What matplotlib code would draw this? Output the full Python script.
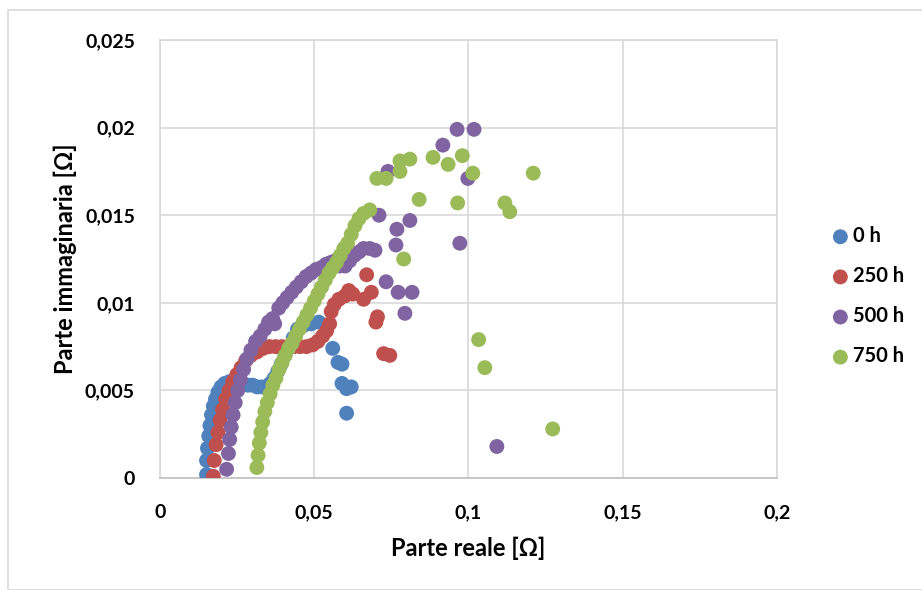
import numpy as np
from matplotlib import pyplot as plt
from matplotlib.patches import Rectangle

# Dati (parte reale, parte immaginaria)
x_0h = [0.0151, 0.0151, 0.0154, 0.0158, 0.0162, 0.0167, 0.0173, 0.0180, 0.0188, 0.0198,
        0.0210, 0.0225, 0.0240, 0.0255, 0.0270, 0.0285, 0.0300, 0.0315, 0.0330, 0.0345,
        0.0358, 0.0370, 0.0382, 0.0393, 0.0405, 0.0418, 0.0432, 0.0446, 0.0465, 0.0490,
        0.0515, 0.0560, 0.0577, 0.0590, 0.0590, 0.0605, 0.0620, 0.0605]
y_0h = [0.0002, 0.0010, 0.0017, 0.0024, 0.0030, 0.0036, 0.0041, 0.0045, 0.0049, 0.0052,
        0.0054, 0.0055, 0.0054, 0.0054, 0.0054, 0.0053, 0.0053, 0.0052, 0.0052, 0.0052,
        0.0054, 0.0057, 0.0061, 0.0065, 0.0070, 0.0075, 0.0080, 0.0085, 0.0087, 0.0088,
        0.0089, 0.0074, 0.0066, 0.0065, 0.0054, 0.0051, 0.0052, 0.0037]

x_250h = [0.0173, 0.0176, 0.0182, 0.0188, 0.0195, 0.0203, 0.0213, 0.0224, 0.0236, 0.0249,
          0.0263, 0.0278, 0.0295, 0.0315, 0.0335, 0.0355, 0.0375, 0.0395, 0.0415, 0.0435,
          0.0455, 0.0475, 0.0495, 0.0512, 0.0527, 0.0540, 0.0550, 0.0555, 0.0565, 0.0580,
          0.0600, 0.0612, 0.0625, 0.0660, 0.0685, 0.0670, 0.0705, 0.0700, 0.0725, 0.0745]
y_250h = [0.0001, 0.0010, 0.0019, 0.0026, 0.0033, 0.0039, 0.0045, 0.0050, 0.0055, 0.0059,
          0.0063, 0.0067, 0.0070, 0.0072, 0.0074, 0.0075, 0.0075, 0.0075, 0.0075, 0.0075,
          0.0075, 0.0075, 0.0076, 0.0078, 0.0081, 0.0084, 0.0088, 0.0095, 0.0099, 0.0102,
          0.0104, 0.0107, 0.0105, 0.0102, 0.0106, 0.0116, 0.0092, 0.0089, 0.0071, 0.0070]

x_500h = [0.0216, 0.0222, 0.0226, 0.0231, 0.0237, 0.0244, 0.0252, 0.0261, 0.0271, 0.0282,
          0.0295, 0.0310, 0.0325, 0.0340, 0.0352, 0.0365, 0.0372, 0.0385, 0.0398, 0.0412,
          0.0427, 0.0442, 0.0458, 0.0474, 0.0490, 0.0506, 0.0522, 0.0538, 0.0553, 0.0568,
          0.0582, 0.0600, 0.0615, 0.0630, 0.0645, 0.0660, 0.0680, 0.0697, 0.0733, 0.0772,
          0.0817, 0.0794, 0.0765, 0.0972, 0.0768, 0.0810, 0.0710, 0.0739, 0.0917, 0.0963,
          0.1018, 0.0998, 0.1092]
y_500h = [0.0005, 0.0014, 0.0022, 0.0029, 0.0036, 0.0043, 0.0050, 0.0056, 0.0062, 0.0068,
          0.0073, 0.0078, 0.0081, 0.0085, 0.0089, 0.0091, 0.0088, 0.0097, 0.0100, 0.0103,
          0.0106, 0.0109, 0.0112, 0.0115, 0.0117, 0.0119, 0.0120, 0.0122, 0.0123, 0.0124,
          0.0121, 0.0121, 0.0124, 0.0127, 0.0129, 0.0131, 0.0131, 0.0130, 0.0112, 0.0106,
          0.0106, 0.0094, 0.0133, 0.0134, 0.0142, 0.0147, 0.0150, 0.0175, 0.0190, 0.0199,
          0.0199, 0.0171, 0.0018]

x_750h = [0.0314, 0.0318, 0.0322, 0.0327, 0.0333, 0.0340, 0.0348, 0.0357, 0.0366, 0.0376,
          0.0386, 0.0396, 0.0406, 0.0417, 0.0428, 0.0440, 0.0452, 0.0464, 0.0476, 0.0488,
          0.0500, 0.0512, 0.0524, 0.0536, 0.0548, 0.0560, 0.0572, 0.0584, 0.0596, 0.0608,
          0.0620, 0.0632, 0.0645, 0.0660, 0.0680, 0.0703, 0.0733, 0.0778, 0.0778, 0.0810,
          0.0885, 0.0934, 0.0980, 0.1014, 0.0840, 0.0965, 0.1118, 0.1134, 0.1210, 0.0790,
          0.1033, 0.1053, 0.1273]
y_750h = [0.0006, 0.0013, 0.0020, 0.0026, 0.0032, 0.0038, 0.0043, 0.0048, 0.0053, 0.0057,
          0.0062, 0.0066, 0.0070, 0.0074, 0.0077, 0.0081, 0.0085, 0.0089, 0.0093, 0.0097,
          0.0101, 0.0105, 0.0109, 0.0113, 0.0117, 0.0120, 0.0123, 0.0127, 0.0131, 0.0134,
          0.0139, 0.0144, 0.0148, 0.0151, 0.0153, 0.0171, 0.0171, 0.0175, 0.0181, 0.0182,
          0.0183, 0.0179, 0.0184, 0.0174, 0.0159, 0.0157, 0.0157, 0.0152, 0.0174, 0.0125,
          0.0079, 0.0063, 0.0028]

series = [('0 h', x_0h, y_0h, '#4F81BD'),
          ('250 h', x_250h, y_250h, '#C0504D'),
          ('500 h', x_500h, y_500h, '#8064A2'),
          ('750 h', x_750h, y_750h, '#9BBB59')]

xticks = [0, 0.05, 0.1, 0.15, 0.2]
yticks = [0, 0.005, 0.01, 0.015, 0.02, 0.025]

plt.rcParams['font.family'] = ['Lato', 'DejaVu Sans']

fig = plt.figure(figsize=(9.22, 5.9), dpi=100)
ax = fig.add_axes([0.1735, 0.1898, 0.6692, 0.7424])

# cornice esterna del grafico
fig.patches.append(Rectangle((8/922, 0), 1, 1 - 10/590, transform=fig.transFigure,
                             fill=False, edgecolor='#D9D9D9', lw=1.2))

for lab, xs, ys, col in series:
    ax.scatter(xs, ys, s=115, color=col, edgecolors='none', label=lab, zorder=3)

ax.set_xlim(0, 0.2)
ax.set_ylim(0, 0.025)
ax.set_xticks(xticks)
ax.set_yticks(yticks)
ax.set_xticklabels([('%g' % t).replace('.', ',') for t in xticks], fontweight='bold', fontsize=14)
ax.set_yticklabels([('%g' % t).replace('.', ',') for t in yticks], fontweight='bold', fontsize=14)
ax.tick_params(axis='x', length=0, pad=19)
ax.tick_params(axis='y', length=0, pad=18)
ax.grid(True, color='#D9D9D9', lw=1.2)
ax.set_axisbelow(True)
for sp in ax.spines.values():
    sp.set_color('#D9D9D9')
    sp.set_linewidth(1.2)
ax.spines['bottom'].set_color('#BFBFBF')

ax.set_xlabel('Parte reale [Ω]', fontweight='bold', fontsize=17, labelpad=11)
ax.set_ylabel('Parte immaginaria [Ω]', fontweight='bold', fontsize=17, labelpad=6)

leg = ax.legend(loc='center left', bbox_to_anchor=(1.075, 0.415), frameon=False,
                prop={'weight': 'bold', 'size': 14.5}, labelspacing=1.0,
                handlelength=0.9, handletextpad=0.2, markerscale=1, borderaxespad=0)

fig.savefig('out.png', dpi=100)
